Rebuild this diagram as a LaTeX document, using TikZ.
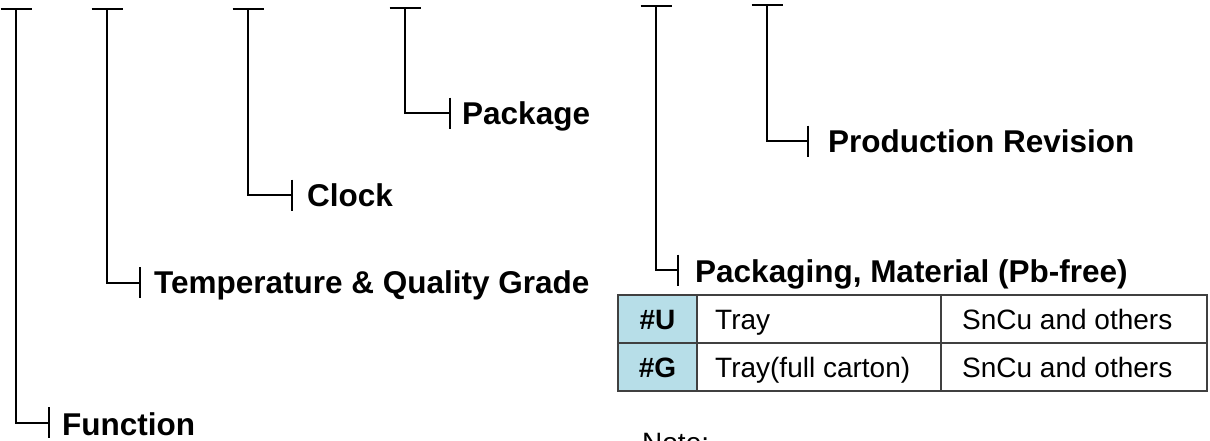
\documentclass[tikz,border=0pt]{standalone}
\usepackage{fontspec}
\setmainfont{Liberation Sans}
\tikzset{ lbl/.style = { anchor = base west % field label
        , inner sep = 0pt
        , font = \bfseries\fontsize{31.5}{36}\selectfont
        }
        , cell/.style = { anchor = base west % table text
        , inner sep = 0pt
        , font = \fontsize{28}{32}\selectfont
        }
        , code/.style = { anchor = base % suffix code
        , inner sep = 0pt
        , font = \bfseries\fontsize{28}{32}\selectfont
        }
        }

\begin{document}
\begin{tikzpicture}[x=1pt, y=-1pt,
        bar_style/.style={draw=black, line width=2pt},
        grid_style/.style={draw=black!75, line width=1.6pt}]
        \definecolor{codefill}{HTML}{B7DEE8}
        \useasboundingbox (0,0) rectangle (1210,440);

        % field labels
        \node [lbl](n1) at (62,435) {Function};
        \node [lbl](n2) at (154,293.5) {Temperature \& Quality Grade};
        \node [lbl](n3) at (307,206) {Clock};
        \node [lbl](n4) at (462,124.5) {Package};
        \node [lbl](n5) at (695,282) {Packaging, Material (Pb-free)};
        \node [lbl](n6) at (828,152) {Production Revision};

        % tops of the brackets
        \coordinate (t1) at (16,8.7);
        \coordinate (t2) at (107,8.7);
        \coordinate (t3) at (248,8.7);
        \coordinate (t4) at (405,7.5);
        \coordinate (t5) at (656,6);
        \coordinate (t6) at (767,5);

        % ticks in front of the labels
        \coordinate (k1) at (49,422.5);
        \coordinate (k2) at (139.5,282.5);
        \coordinate (k3) at (292,195);
        \coordinate (k4) at (450,113);
        \coordinate (k5) at (678,270);
        \coordinate (k6) at (808,141);

        \draw [bar_style] (t1) +(-15.5,0) -- +(15.5,0) (t1) |- (k1) (k1) +(0,-15.5) -- +(0,15.5);
        \draw [bar_style] (t2) +(-15.5,0) -- +(15.5,0) (t2) |- (k2) (k2) +(0,-15.5) -- +(0,15.5);
        \draw [bar_style] (t3) +(-15.5,0) -- +(15.5,0) (t3) |- (k3) (k3) +(0,-15.5) -- +(0,15.5);
        \draw [bar_style] (t4) +(-15.5,0) -- +(15.5,0) (t4) |- (k4) (k4) +(0,-15.5) -- +(0,15.5);
        \draw [bar_style] (t5) +(-15.5,0) -- +(15.5,0) (t5) |- (k5) (k5) +(0,-15.5) -- +(0,15.5);
        \draw [bar_style] (t6) +(-15.5,0) -- +(15.5,0) (t6) |- (k6) (k6) +(0,-15.5) -- +(0,15.5);

        % packaging table
        \fill [codefill] (618,295) rectangle (697,391);
        \draw [grid_style] (618,295) rectangle (1207,391);
        \draw [grid_style] (618,343) -- (1207,343);
        \draw [grid_style] (697,295) -- (697,391);
        \draw [grid_style] (941,295) -- (941,391);

        \node [code](cU) at (657.5,329) {\#U};
        \node [cell](pU) at (715,329) {Tray};
        \node [cell](mU) at (962,329) {SnCu and others};
        \node [code](cG) at (657.5,377) {\#G};
        \node [cell](pG) at (715,377) {Tray(full carton)};
        \node [cell](mG) at (962,377) {SnCu and others};

        \node [cell](note) at (642,452) {Note:};
\end{tikzpicture}
\end{document}
